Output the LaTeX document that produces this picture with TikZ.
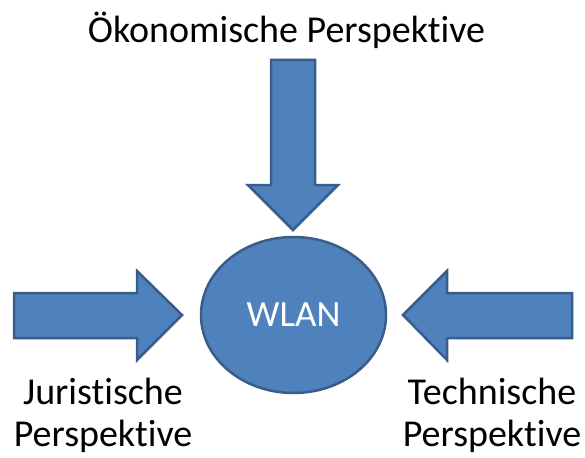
\documentclass[tikz,border=0pt]{standalone}
\usepackage{fontspec}
\setmainfont{Carlito}[Ligatures=NoCommon]
\usetikzlibrary{shapes.geometric}
\definecolor{officeblue}{HTML}{4F81BD}
\definecolor{officeedge}{HTML}{385D8A}
\tikzset{
  bigarrow/.style={fill=officeblue,draw=officeedge,line width=2.5pt,line join=miter},
  persp/.style={font=\fontsize{38}{42}\selectfont,align=center,inner sep=0pt}
}
\begin{document}
\begin{tikzpicture}[x=1pt,y=-1pt]
  \useasboundingbox (0,0) rectangle (585,457);
  % centre
  \node[ellipse,minimum width=185,minimum height=156,fill=officeblue,draw=officeedge,line width=2.5pt,
        font=\fontsize{37}{40}\selectfont,text=white] (wlan) at (293.5,315) {WLAN};
  % arrows
  \draw[bigarrow] (271,60) -- (315,60) -- (315,185) -- (338,185) -- (293,230) -- (248,185) -- (271,185) -- cycle;
  \draw[bigarrow] (14,293) -- (137,293) -- (137,271) -- (182,315) -- (137,360) -- (137,338) -- (14,338) -- cycle;
  \draw[bigarrow] (572,293) -- (447,293) -- (447,271) -- (403,315) -- (447,360) -- (447,338) -- (572,338) -- cycle;
  % labels
  \node[anchor=base,font=\fontsize{38}{40}\selectfont,inner sep=0pt] (oek) at (286.5,43) {Ökonomische Perspektive};
  \node[persp,anchor=north] (jur) at (103,378) {Juristische\\Perspektive};
  \node[persp,anchor=north] (tech) at (492,378) {Technische\\Perspektive};
\end{tikzpicture}
\end{document}
